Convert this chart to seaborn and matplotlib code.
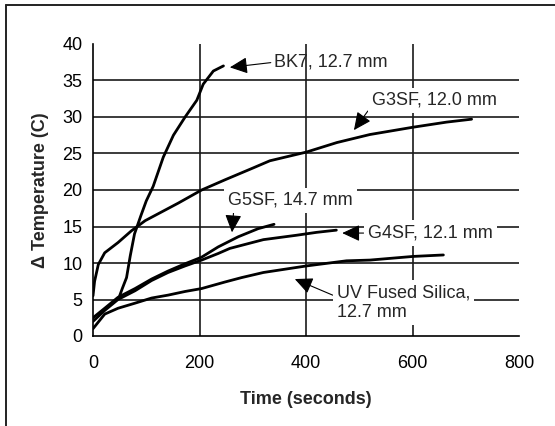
import matplotlib
matplotlib.use("Agg")
import matplotlib.pyplot as plt
import seaborn as sns
import pandas as pd
from matplotlib.lines import Line2D

# ---- data ----
bk7_t = [50, 55, 63, 70, 78, 90, 100, 113, 132, 151, 173, 195, 207, 226, 245]
bk7_v = [5.5, 6.5, 8.0, 11.0, 14.0, 16.5, 18.5, 20.5, 24.5, 27.5, 30.0, 32.3, 34.5, 36.3, 37.0]

g3sf_t = [0, 3, 10, 22, 47, 72, 98, 129, 160, 204, 248, 300, 332, 401, 458, 520, 601, 664, 711]
g3sf_v = [5.5, 7.5, 9.8, 11.4, 12.8, 14.4, 15.8, 17.0, 18.2, 20.0, 21.4, 23.0, 24.0, 25.2, 26.5, 27.6, 28.6, 29.3, 29.7]

g5sf_t = [0, 22, 47, 79, 110, 141, 173, 204, 235, 273, 310, 340]
g5sf_v = [2.5, 3.8, 5.3, 6.5, 7.8, 8.9, 9.9, 10.8, 12.2, 13.6, 14.7, 15.3]

g4sf_t = [0, 22, 47, 79, 110, 141, 173, 204, 235, 257, 320, 382, 420, 457]
g4sf_v = [2.0, 3.5, 5.0, 6.2, 7.6, 8.7, 9.6, 10.4, 11.3, 12.0, 13.2, 13.8, 14.2, 14.5]

uv_t = [0, 22, 47, 79, 110, 141, 173, 204, 248, 279, 320, 401, 476, 520, 601, 658]
uv_v = [1.0, 3.0, 3.8, 4.5, 5.2, 5.6, 6.1, 6.5, 7.4, 8.0, 8.7, 9.6, 10.3, 10.4, 10.9, 11.1]

series_names = ["BK7", "G3SF", "G5SF", "G4SF", "UV"]
labels = ["BK7, 12.7 mm", "G3SF, 12.0 mm", "G5SF, 14.7 mm", "G4SF, 12.1 mm",
          "UV Fused Silica,\n12.7 mm"]
x_ticks = [0, 200, 400, 600, 800]
y_ticks = [0, 5, 10, 15, 20, 25, 30, 35, 40]
x_title = "Time (seconds)"
y_title = "\u0394 Temperature (C)"

frames = []
for name, t, v in zip(series_names,
                      [bk7_t, g3sf_t, g5sf_t, g4sf_t, uv_t],
                      [bk7_v, g3sf_v, g5sf_v, g4sf_v, uv_v]):
    frames.append(pd.DataFrame({"t": t, "v": v, "s": name}))
df = pd.concat(frames, ignore_index=True)

sns.set_style("white")
plt.rcParams["font.family"] = ["Liberation Sans", "DejaVu Sans"]

fig = plt.figure(figsize=(5.55, 4.26), dpi=100)
ax = fig.add_axes([93 / 555, 1 - 336 / 426, (519 - 93) / 555, (336 - 44) / 426])

sns.lineplot(data=df, x="t", y="v", hue="s", units="s", estimator=None,
             palette={n: "black" for n in series_names}, legend=False,
             linewidth=2.0, sort=False, ax=ax, zorder=2)

ax.set_xlim(0, 800)
ax.set_ylim(0, 40)
ax.set_xticks(x_ticks)
ax.set_yticks(y_ticks)
ax.set_xticklabels([str(v) for v in x_ticks])
ax.set_yticklabels([str(v) for v in y_ticks])
ax.tick_params(axis="both", direction="inout", length=7, width=1.2,
               colors="black", labelsize=13)
ax.tick_params(axis="x", pad=10)
ax.tick_params(axis="y", pad=4)

ax.grid(True, color="#1a1a1a", linewidth=1.2)
ax.set_axisbelow(True)
for gl in [ax.get_xgridlines()[0], ax.get_xgridlines()[-1],
           ax.get_ygridlines()[0], ax.get_ygridlines()[-1]]:
    gl.set_visible(False)

for side in ["top", "right"]:
    ax.spines[side].set_visible(False)
for side in ["left", "bottom"]:
    ax.spines[side].set_color("black")
    ax.spines[side].set_linewidth(1.2)

ax.set_xlabel(x_title, fontsize=13, fontweight="bold", labelpad=14)
ax.set_ylabel(y_title, fontsize=13, fontweight="bold", labelpad=10)

arrow = dict(arrowstyle="-|>,head_length=0.6,head_width=0.28", color="black",
             lw=0.8, mutation_scale=18, shrinkA=0, shrinkB=0)
box = dict(facecolor="white", edgecolor="none", pad=3)

# (label, tip, text position, relpos, box?)
ann = [
    (labels[0], (257, 36.8), (340, 37.5), (0, 0.5), False),
    (labels[1], (490, 28.2), (524, 32.3), (0, 0.2), True),
    (labels[2], (261, 14.2), (253, 18.6), (0.05, 0.1), True),
    (labels[3], (468, 14.1), (516, 14.1), (0, 0.5), True),
    (labels[4], (379, 7.8), (458, 4.6), (0, 0.65), True),
]
for text, tip, pos, rel, hasbox in ann:
    a = dict(arrow)
    a["relpos"] = rel
    ax.annotate(text, xy=tip, xytext=pos, xycoords="data", textcoords="data",
                ha="left", va="center", fontsize=13, multialignment="left",
                arrowprops=a, bbox=box if hasbox else None, zorder=4)

# outer frame (only top and left edges visible in the reference)
fig.add_artist(Line2D([6 / 555, 1.0], [1 - 5 / 426, 1 - 5 / 426], color="#222222",
                      linewidth=1.4, transform=fig.transFigure))
fig.add_artist(Line2D([6 / 555, 6 / 555], [0.0, 1 - 5 / 426], color="#222222",
                      linewidth=1.4, transform=fig.transFigure))

fig.savefig("out.png", dpi=100)
